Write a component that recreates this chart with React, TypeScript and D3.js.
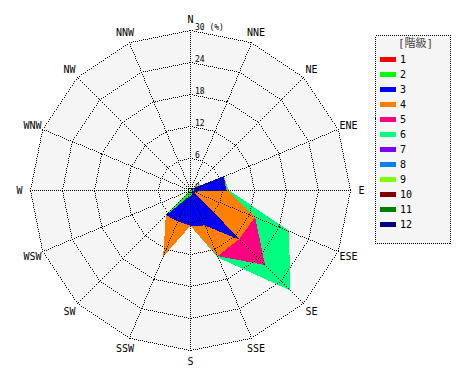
import React from "react";
import * as d3 from "d3";

const DIRS = ["N","NNE","NE","ENE","E","ESE","SE","SSE","S","SSW","SW","WSW","W","WNW","NW","NNW"];
const CLASSES = ["1","2","3","4","5","6","7","8","9","10","11","12"];
const COLORS = ["#ff0000","#00ff00","#0000ff","#ff8000","#ff0080","#00ff80","#8000ff","#0080ff","#80ff00","#800000","#008000","#000080"];
const RING_TICKS = [6, 12, 18, 24, 30];

// frequency (%) per class, directions N..NNW
const class1 = [0,0,0,0.1,0.1,0,0.1,0.1,0.1,0,0.1,0,0,0,0,0];
const class2 = [0,0,0,0.5,0.4,0,0.3,0.6,0.9,1.2,6.3,0,0,0,0,0];
const class3 = [0,0,0.2,6.1,6.1,0.3,12.4,6.3,5.5,5.0,0,0,0,0,0,0];
const class4 = [0,0,0,0,0.2,12.7,0,6.2,0,6.9,0,0,0,0,0,0];
const class5 = [0,0,0,0,0,0,6.8,0,0,0,0,0,0,0,0,0];
const class6 = [0,0,0,0,0.3,6.9,6.7,0.3,0,0,0,0,0,0,0,0];
const class7 = [0,0,0,0,0,0,0,0,0,0,0,0,0,0,0,0];
const class8 = [0,0,0,0,0,0,0,0,0,0,0,0,0,0,0,0];
const class9 = [0,0,0,0,0,0,0,0,0,0,0,0,0,0,0,0];
const class10 = [0,0,0,0,0,0,0,0,0,0,0,0,0,0,0,0];
const class11 = [0,0,0,0,0,0,0,0,0,0,0,0,0,0,0,0];
const class12 = [0,0,0,0,0,0,0,0,0,0,0,0,0,0,0,0];
const SERIES = [class1,class2,class3,class4,class5,class6,class7,class8,class9,class10,class11,class12];

const CX = 190.5, CY = 190.5, R = 160;
const FONT = "'DejaVu Sans Mono', 'Noto Sans CJK JP', monospace";

// dotted line as individual pixels (every other pixel along the line)
function dotPath(x1: number, y1: number, x2: number, y2: number): string {
  const dx = x2 - x1, dy = y2 - y1;
  const n = Math.max(1, Math.round(Math.max(Math.abs(dx), Math.abs(dy))));
  let s = "";
  for (let k = 0; k <= n; k += 2) {
    const px = Math.floor(x1 + (dx * k) / n);
    const py = Math.floor(y1 + (dy * k) / n);
    s += `M${px},${py}h1v1h-1z`;
  }
  return s;
}

export default function App() {
  const r = d3.scaleLinear().domain([0, 30]).range([0, R]);
  const angle = (i: number) => (i * 2 * Math.PI) / DIRS.length;

  const cum: number[][] = [];
  SERIES.forEach((s, k) => {
    cum.push(s.map((v, i) => v + (k > 0 ? cum[k - 1][i] : 0)));
  });

  const radial = d3.lineRadial<number>()
    .angle((_, i) => angle(i))
    .radius((d) => r(d))
    .curve(d3.curveLinearClosed);

  const outer = radial(DIRS.map(() => 30)) as string;

  const pt = (i: number, rad: number) => {
    const a = angle(i);
    return [CX + Math.sin(a) * rad, CY - Math.cos(a) * rad];
  };

  let grid = "";
  RING_TICKS.forEach((t) => {
    DIRS.forEach((_, i) => {
      const [x1, y1] = pt(i, r(t));
      const [x2, y2] = pt((i + 1) % DIRS.length, r(t));
      grid += dotPath(x1, y1, x2, y2);
    });
  });
  DIRS.forEach((_, i) => {
    const [x, y] = pt(i, R);
    grid += dotPath(CX, CY, x, y);
  });

  return (
    <svg width={470} height={380} style={{ display: "block", position: "absolute", left: 0, top: 0 }}>
      <rect x={0} y={0} width={470} height={380} fill="#ffffff" />
      <g transform={`translate(${CX},${CY})`}>
        <path d={outer} fill="#f5f5f5" stroke="none" shapeRendering="crispEdges" />
        {cum.slice().reverse().map((c, j) => {
          const k = cum.length - 1 - j;
          if (d3.max(SERIES[k])! <= 0) return null;
          return (
            <path key={k} d={radial(c) as string} fill={COLORS[k]}
              stroke={k === 0 ? "none" : COLORS[k]} strokeWidth={1}
              shapeRendering="crispEdges" />
          );
        })}
      </g>
      <path d={grid} fill="#000" shapeRendering="crispEdges" />
      <g transform={`translate(${CX},${CY})`}>
        {DIRS.map((d, i) => {
          const [x, y] = pt(i, 171);
          return (
            <text key={d} x={x - CX} y={y - CY} dy="0.36em" textAnchor="middle" fontFamily={FONT} fontSize={10} fill="#000">{d}</text>
          );
        })}
        <text x={4.5} y={-1} fontFamily={FONT} fontSize={8} fill="#000">0</text>
        {RING_TICKS.map((t) => (
          <text key={t} x={4.5} y={-r(t) - 1} fontFamily={FONT} fontSize={8} fill="#000">
            {t === 30 ? "30 (%)" : t}
          </text>
        ))}
      </g>
      <g>
        <rect x={375.5} y={35.5} width={75} height={208} fill="#f5f5f5" stroke="#000" strokeWidth={1} strokeDasharray="1 1"
          shapeRendering="crispEdges" />
        <text x={415.5} y={47} textAnchor="middle" fontFamily={FONT} fontSize={11} fill="#444">[階級]</text>
        {CLASSES.map((c, k) => {
          const y = 59.5 + k * 15;
          return (
            <g key={c}>
              <rect x={380} y={y - 2.5} width={16} height={5} fill={COLORS[k]} />
              <text x={400} y={y} dy="0.36em" fontFamily={FONT} fontSize={10} fill="#000">{c}</text>
            </g>
          );
        })}
      </g>
    </svg>
  );
}
